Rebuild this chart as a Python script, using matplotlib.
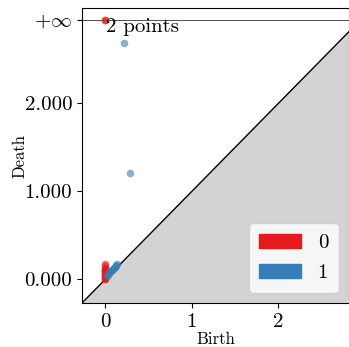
import matplotlib
matplotlib.use("Agg")
import matplotlib.pyplot as plt
import matplotlib.patches as mpatches
import numpy as np

plt.rcParams["font.family"] = ["cmr10", "DejaVu Serif"]
plt.rcParams["mathtext.fontset"] = "cm"
plt.rcParams["axes.formatter.use_mathtext"] = True

# Persistence pairs (birth, death) by homology dimension
h0_birth = [0.0] * 16
h0_death = [0.005, 0.01, 0.02, 0.03, 0.04, 0.05, 0.06, 0.07, 0.08,
            0.09, 0.10, 0.11, 0.12, 0.13, 0.15, 0.17]
h0_inf_birth = [0.0, 0.0]

h1_birth = [0.02, 0.03, 0.04, 0.05, 0.06, 0.07, 0.08, 0.09, 0.10,
            0.11, 0.12, 0.13, 0.14, 0.22, 0.29]
h1_death = [0.04, 0.05, 0.07, 0.08, 0.09, 0.10, 0.11, 0.12, 0.13,
            0.14, 0.15, 0.16, 0.17, 2.68, 1.21]

dim_labels = ["0", "1"]
colors = ["#e41a1c", "#377eb8"]
y_tick_values = [0.0, 1.0, 2.0]

min_birth = 0.0
max_death = max(h0_death + h1_death)
delta = (max_death - min_birth) * 0.1
infinity = max_death + delta
axis_end = max_death + delta / 2
axis_start = min_birth - delta

fig = plt.figure(figsize=(3.49, 3.47), dpi=100)
ax = fig.add_axes([82 / 349, 44 / 347, 267 / 349, 295 / 347])

# Diagonal and the region below it
x = np.linspace(axis_start, infinity, 100)
ax.fill_between(x, axis_start, x, color="lightgrey", zorder=0)
ax.plot([axis_start, axis_end], [axis_start, axis_end], color="k", linewidth=1.0)

# Line for points that never die
ax.plot([axis_start, axis_end], [infinity, infinity], color="k", linewidth=0.6, alpha=0.8)

ax.scatter(h0_birth, h0_death, s=30, color=colors[0], alpha=0.6, linewidths=0, zorder=3)
ax.scatter(h1_birth, h1_death, s=30, color=colors[1], alpha=0.6, linewidths=0, zorder=3)
ax.scatter(h0_inf_birth, [infinity] * len(h0_inf_birth), s=30, color=colors[0],
           alpha=0.6, linewidths=0, zorder=3)
ax.text(h0_inf_birth[0] + 0.01, infinity + 0.02, "%d points" % len(h0_inf_birth),
        fontsize=15, ha="left", va="top")

ax.set_xlim(axis_start, axis_end)
ax.set_ylim(axis_start, infinity + delta / 2)
ax.set_xticks([0, 1, 2])
ax.set_xticklabels(["0", "1", "2"])
ax.set_yticks(y_tick_values + [infinity])
ax.set_yticklabels(["%.3f" % v for v in y_tick_values] + [r"$+\infty$"])
ax.tick_params(labelsize=15)
ax.set_xlabel("Birth", fontsize=12, labelpad=1)
ax.set_ylabel("Death", fontsize=12, labelpad=-2)

handles = [mpatches.Patch(color=c, label=l) for c, l in zip(colors, dim_labels)]
ax.legend(handles=handles, loc="lower right", fontsize=15, handlelength=2.0,
          borderpad=0.5, labelspacing=0.55)

fig.savefig("out.png", dpi=100)
